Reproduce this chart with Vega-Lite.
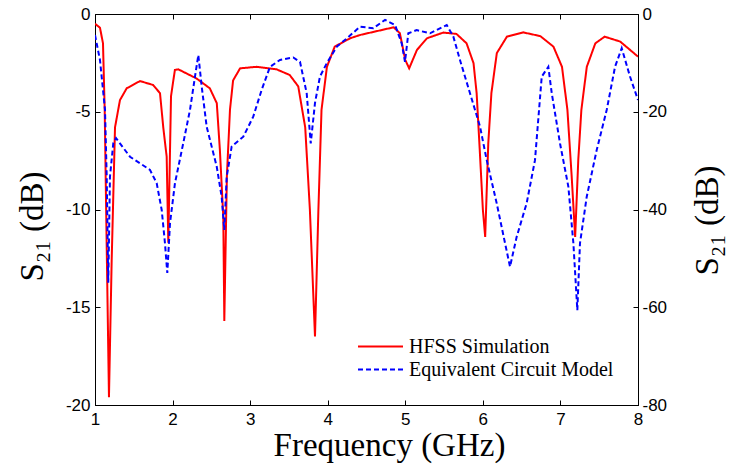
{
  "$schema": "https://vega.github.io/schema/vega-lite/v6.json",
  "width": 543,
  "height": 391,
  "autosize": {"type": "none"},
  "padding": {"left": 95, "top": 14, "right": 99, "bottom": 60},
  "background": "white",
  "config": {
    "view": {"stroke": "#000", "strokeWidth": 1},
    "axis": {
      "grid": false,
      "domainColor": "#000",
      "tickColor": "#000",
      "tickSize": -5,
      "labelFont": "Liberation Sans",
      "labelFontSize": 17,
      "labelColor": "#000",
      "labelOverlap": false,
      "labelFlush": false,
      "labelBound": false,
      "titleFont": "Liberation Serif",
      "titleFontSize": 33,
      "titleFontWeight": "normal",
      "titleColor": "#000"
    },
    "legend": {
      "labelFont": "Liberation Serif",
      "labelFontSize": 20,
      "labelColor": "#000",
      "labelLimit": 0,
      "labelOffset": 5,
      "symbolType": "stroke",
      "symbolSize": 2025,
      "symbolStrokeWidth": 2,
      "rowPadding": 0,
      "clipHeight": 23,
      "padding": 0
    }
  },
  "data": {
    "values": [
      {"f": 1.0, "s": -0.5, "series": "HFSS Simulation"},
      {"f": 1.064, "s": -0.7, "series": "HFSS Simulation"},
      {"f": 1.103, "s": -1.5, "series": "HFSS Simulation"},
      {"f": 1.125, "s": -4.9, "series": "HFSS Simulation"},
      {"f": 1.147, "s": -10.9, "series": "HFSS Simulation"},
      {"f": 1.18, "s": -19.6, "series": "HFSS Simulation"},
      {"f": 1.215, "s": -12.6, "series": "HFSS Simulation"},
      {"f": 1.258, "s": -5.8, "series": "HFSS Simulation"},
      {"f": 1.322, "s": -4.4, "series": "HFSS Simulation"},
      {"f": 1.409, "s": -3.8, "series": "HFSS Simulation"},
      {"f": 1.58, "s": -3.43, "series": "HFSS Simulation"},
      {"f": 1.748, "s": -3.63, "series": "HFSS Simulation"},
      {"f": 1.838, "s": -4.05, "series": "HFSS Simulation"},
      {"f": 1.88, "s": -5.8, "series": "HFSS Simulation"},
      {"f": 1.924, "s": -7.3, "series": "HFSS Simulation"},
      {"f": 1.945, "s": -11.7, "series": "HFSS Simulation"},
      {"f": 1.98, "s": -4.2, "series": "HFSS Simulation"},
      {"f": 2.03, "s": -2.86, "series": "HFSS Simulation"},
      {"f": 2.074, "s": -2.83, "series": "HFSS Simulation"},
      {"f": 2.31, "s": -3.3, "series": "HFSS Simulation"},
      {"f": 2.48, "s": -3.8, "series": "HFSS Simulation"},
      {"f": 2.57, "s": -4.56, "series": "HFSS Simulation"},
      {"f": 2.61, "s": -6.96, "series": "HFSS Simulation"},
      {"f": 2.654, "s": -10.4, "series": "HFSS Simulation"},
      {"f": 2.667, "s": -15.7, "series": "HFSS Simulation"},
      {"f": 2.70, "s": -8.3, "series": "HFSS Simulation"},
      {"f": 2.74, "s": -4.9, "series": "HFSS Simulation"},
      {"f": 2.78, "s": -3.4, "series": "HFSS Simulation"},
      {"f": 2.87, "s": -2.78, "series": "HFSS Simulation"},
      {"f": 3.085, "s": -2.7, "series": "HFSS Simulation"},
      {"f": 3.34, "s": -2.83, "series": "HFSS Simulation"},
      {"f": 3.51, "s": -3.12, "series": "HFSS Simulation"},
      {"f": 3.62, "s": -3.7, "series": "HFSS Simulation"},
      {"f": 3.71, "s": -5.8, "series": "HFSS Simulation"},
      {"f": 3.77, "s": -10, "series": "HFSS Simulation"},
      {"f": 3.836, "s": -16.5, "series": "HFSS Simulation"},
      {"f": 3.88, "s": -10, "series": "HFSS Simulation"},
      {"f": 3.92, "s": -4.9, "series": "HFSS Simulation"},
      {"f": 3.99, "s": -2.7, "series": "HFSS Simulation"},
      {"f": 4.09, "s": -1.67, "series": "HFSS Simulation"},
      {"f": 4.29, "s": -1.24, "series": "HFSS Simulation"},
      {"f": 4.42, "s": -1.07, "series": "HFSS Simulation"},
      {"f": 4.85, "s": -0.68, "series": "HFSS Simulation"},
      {"f": 4.93, "s": -0.98, "series": "HFSS Simulation"},
      {"f": 5.0, "s": -2.35, "series": "HFSS Simulation"},
      {"f": 5.05, "s": -2.78, "series": "HFSS Simulation"},
      {"f": 5.15, "s": -1.84, "series": "HFSS Simulation"},
      {"f": 5.28, "s": -1.24, "series": "HFSS Simulation"},
      {"f": 5.49, "s": -0.95, "series": "HFSS Simulation"},
      {"f": 5.66, "s": -1.02, "series": "HFSS Simulation"},
      {"f": 5.79, "s": -1.5, "series": "HFSS Simulation"},
      {"f": 5.88, "s": -2.52, "series": "HFSS Simulation"},
      {"f": 5.92, "s": -4.06, "series": "HFSS Simulation"},
      {"f": 5.96, "s": -6.96, "series": "HFSS Simulation"},
      {"f": 6.0, "s": -10, "series": "HFSS Simulation"},
      {"f": 6.03, "s": -11.4, "series": "HFSS Simulation"},
      {"f": 6.07, "s": -6.6, "series": "HFSS Simulation"},
      {"f": 6.11, "s": -4.05, "series": "HFSS Simulation"},
      {"f": 6.18, "s": -2.0, "series": "HFSS Simulation"},
      {"f": 6.31, "s": -1.16, "series": "HFSS Simulation"},
      {"f": 6.52, "s": -0.94, "series": "HFSS Simulation"},
      {"f": 6.74, "s": -1.13, "series": "HFSS Simulation"},
      {"f": 6.91, "s": -1.67, "series": "HFSS Simulation"},
      {"f": 7.02, "s": -2.7, "series": "HFSS Simulation"},
      {"f": 7.09, "s": -4.9, "series": "HFSS Simulation"},
      {"f": 7.145, "s": -8.3, "series": "HFSS Simulation"},
      {"f": 7.19, "s": -11.4, "series": "HFSS Simulation"},
      {"f": 7.23, "s": -7.47, "series": "HFSS Simulation"},
      {"f": 7.27, "s": -4.9, "series": "HFSS Simulation"},
      {"f": 7.34, "s": -2.7, "series": "HFSS Simulation"},
      {"f": 7.45, "s": -1.5, "series": "HFSS Simulation"},
      {"f": 7.57, "s": -1.16, "series": "HFSS Simulation"},
      {"f": 7.77, "s": -1.41, "series": "HFSS Simulation"},
      {"f": 8.0, "s": -2.18, "series": "HFSS Simulation"},
      {"f": 1.0, "s": -4.3, "series": "Equivalent Circuit Model"},
      {"f": 1.064, "s": -9.4, "series": "Equivalent Circuit Model"},
      {"f": 1.129, "s": -19.6, "series": "Equivalent Circuit Model"},
      {"f": 1.151, "s": -33.3, "series": "Equivalent Circuit Model"},
      {"f": 1.171, "s": -55, "series": "Equivalent Circuit Model"},
      {"f": 1.193, "s": -33.3, "series": "Equivalent Circuit Model"},
      {"f": 1.236, "s": -26.4, "series": "Equivalent Circuit Model"},
      {"f": 1.271, "s": -25.4, "series": "Equivalent Circuit Model"},
      {"f": 1.451, "s": -29.2, "series": "Equivalent Circuit Model"},
      {"f": 1.709, "s": -31.9, "series": "Equivalent Circuit Model"},
      {"f": 1.795, "s": -34.6, "series": "Equivalent Circuit Model"},
      {"f": 1.86, "s": -40.1, "series": "Equivalent Circuit Model"},
      {"f": 1.902, "s": -46.9, "series": "Equivalent Circuit Model"},
      {"f": 1.932, "s": -53, "series": "Equivalent Circuit Model"},
      {"f": 1.967, "s": -42.8, "series": "Equivalent Circuit Model"},
      {"f": 2.031, "s": -34.6, "series": "Equivalent Circuit Model"},
      {"f": 2.138, "s": -26.4, "series": "Equivalent Circuit Model"},
      {"f": 2.225, "s": -19.6, "series": "Equivalent Circuit Model"},
      {"f": 2.289, "s": -12.8, "series": "Equivalent Circuit Model"},
      {"f": 2.332, "s": -8.4, "series": "Equivalent Circuit Model"},
      {"f": 2.376, "s": -14.9, "series": "Equivalent Circuit Model"},
      {"f": 2.44, "s": -23.1, "series": "Equivalent Circuit Model"},
      {"f": 2.569, "s": -31.2, "series": "Equivalent Circuit Model"},
      {"f": 2.633, "s": -37.4, "series": "Equivalent Circuit Model"},
      {"f": 2.667, "s": -44.2, "series": "Equivalent Circuit Model"},
      {"f": 2.698, "s": -33.3, "series": "Equivalent Circuit Model"},
      {"f": 2.762, "s": -27.1, "series": "Equivalent Circuit Model"},
      {"f": 2.912, "s": -25.1, "series": "Equivalent Circuit Model"},
      {"f": 3.04, "s": -21, "series": "Equivalent Circuit Model"},
      {"f": 3.149, "s": -15.5, "series": "Equivalent Circuit Model"},
      {"f": 3.256, "s": -10.8, "series": "Equivalent Circuit Model"},
      {"f": 3.385, "s": -9.4, "series": "Equivalent Circuit Model"},
      {"f": 3.556, "s": -8.9, "series": "Equivalent Circuit Model"},
      {"f": 3.643, "s": -9.8, "series": "Equivalent Circuit Model"},
      {"f": 3.729, "s": -16.2, "series": "Equivalent Circuit Model"},
      {"f": 3.781, "s": -26.5, "series": "Equivalent Circuit Model"},
      {"f": 3.836, "s": -18.2, "series": "Equivalent Circuit Model"},
      {"f": 3.9, "s": -12.8, "series": "Equivalent Circuit Model"},
      {"f": 3.987, "s": -10.1, "series": "Equivalent Circuit Model"},
      {"f": 4.116, "s": -6.7, "series": "Equivalent Circuit Model"},
      {"f": 4.245, "s": -5.0, "series": "Equivalent Circuit Model"},
      {"f": 4.416, "s": -2.6, "series": "Equivalent Circuit Model"},
      {"f": 4.588, "s": -2.9, "series": "Equivalent Circuit Model"},
      {"f": 4.739, "s": -1.2, "series": "Equivalent Circuit Model"},
      {"f": 4.868, "s": -2.25, "series": "Equivalent Circuit Model"},
      {"f": 4.954, "s": -6.0, "series": "Equivalent Circuit Model"},
      {"f": 4.996, "s": -9.8, "series": "Equivalent Circuit Model"},
      {"f": 5.039, "s": -3.95, "series": "Equivalent Circuit Model"},
      {"f": 5.147, "s": -3.3, "series": "Equivalent Circuit Model"},
      {"f": 5.319, "s": -3.95, "series": "Equivalent Circuit Model"},
      {"f": 5.534, "s": -2.25, "series": "Equivalent Circuit Model"},
      {"f": 5.619, "s": -4.6, "series": "Equivalent Circuit Model"},
      {"f": 5.705, "s": -9.4, "series": "Equivalent Circuit Model"},
      {"f": 5.834, "s": -16.2, "series": "Equivalent Circuit Model"},
      {"f": 5.963, "s": -23, "series": "Equivalent Circuit Model"},
      {"f": 6.05, "s": -29.9, "series": "Equivalent Circuit Model"},
      {"f": 6.178, "s": -38.7, "series": "Equivalent Circuit Model"},
      {"f": 6.286, "s": -46.9, "series": "Equivalent Circuit Model"},
      {"f": 6.35, "s": -51.7, "series": "Equivalent Circuit Model"},
      {"f": 6.436, "s": -45.6, "series": "Equivalent Circuit Model"},
      {"f": 6.565, "s": -38.7, "series": "Equivalent Circuit Model"},
      {"f": 6.672, "s": -29.9, "series": "Equivalent Circuit Model"},
      {"f": 6.759, "s": -12.8, "series": "Equivalent Circuit Model"},
      {"f": 6.844, "s": -10.8, "series": "Equivalent Circuit Model"},
      {"f": 6.888, "s": -16.2, "series": "Equivalent Circuit Model"},
      {"f": 6.995, "s": -26.5, "series": "Equivalent Circuit Model"},
      {"f": 7.102, "s": -35.3, "series": "Equivalent Circuit Model"},
      {"f": 7.167, "s": -46.9, "series": "Equivalent Circuit Model"},
      {"f": 7.218, "s": -60.6, "series": "Equivalent Circuit Model"},
      {"f": 7.252, "s": -46.9, "series": "Equivalent Circuit Model"},
      {"f": 7.339, "s": -37.4, "series": "Equivalent Circuit Model"},
      {"f": 7.468, "s": -27.8, "series": "Equivalent Circuit Model"},
      {"f": 7.597, "s": -19.6, "series": "Equivalent Circuit Model"},
      {"f": 7.704, "s": -10.8, "series": "Equivalent Circuit Model"},
      {"f": 7.79, "s": -7.0, "series": "Equivalent Circuit Model"},
      {"f": 7.897, "s": -12.8, "series": "Equivalent Circuit Model"},
      {"f": 8.0, "s": -17.6, "series": "Equivalent Circuit Model"}
    ]
  },
  "layer": [
    {
      "transform": [{"filter": "datum.series === 'HFSS Simulation'"}],
      "mark": {"type": "line", "strokeWidth": 2, "clip": true},
      "encoding": {
        "x": {
          "field": "f", "type": "quantitative",
          "scale": {"domain": [1, 8], "nice": false, "zero": false},
          "axis": {"orient": "bottom", "values": [1, 2, 3, 4, 5, 6, 7, 8], "labelPadding": 11,
                   "title": "Frequency (GHz)", "titleX": 294, "titleY": 50, "titleAlign": "center", "titleBaseline": "alphabetic"}
        },
        "y": {
          "field": "s", "type": "quantitative",
          "scale": {"domain": [-20, 0], "nice": false, "zero": false},
          "axis": {"orient": "left", "values": [0, -5, -10, -15, -20], "labelExpr": "toString(datum.value)", "labelPadding": 10,
                   "title": "S₂₁ (dB)", "titleX": -63, "titleY": 212, "titleAngle": -90, "titleAlign": "center", "titleBaseline": "middle"}
        },
        "color": {
          "field": "series", "type": "nominal",
          "scale": {"domain": ["HFSS Simulation", "Equivalent Circuit Model"], "range": ["#ff0000", "#0000ff"]},
          "legend": {"title": null, "orient": "none", "legendX": 262, "legendY": 321, "labelFont": "Liberation Serif", "labelFontSize": 20, "clipHeight": 23}
        },
        "strokeDash": {
          "field": "series", "type": "nominal",
          "scale": {"domain": ["HFSS Simulation", "Equivalent Circuit Model"], "range": [[1, 0], [5, 3]]},
          "legend": {"title": null, "orient": "none", "legendX": 262, "legendY": 321, "labelFont": "Liberation Serif", "labelFontSize": 20, "clipHeight": 23}
        }
      }
    },
    {
      "transform": [{"filter": "datum.series === 'Equivalent Circuit Model'"}],
      "mark": {"type": "line", "strokeWidth": 2, "clip": true},
      "encoding": {
        "x": {
          "field": "f", "type": "quantitative",
          "scale": {"domain": [1, 8], "nice": false, "zero": false},
          "axis": {"orient": "top", "values": [2, 3, 4, 5, 6, 7], "labels": false, "title": null}
        },
        "y": {
          "field": "s", "type": "quantitative",
          "scale": {"domain": [-80, 0], "nice": false, "zero": false},
          "axis": {"orient": "right", "values": [0, -20, -40, -60, -80], "labelExpr": "toString(datum.value)", "labelPadding": 9,
                   "title": "S₂₁ (dB)", "titleX": 69, "titleY": 206, "titleAngle": -90, "titleAlign": "center", "titleBaseline": "middle"}
        },
        "color": {"field": "series", "type": "nominal"},
        "strokeDash": {"field": "series", "type": "nominal"}
      }
    }
  ],
  "resolve": {"scale": {"y": "independent"}, "axis": {"x": "independent", "y": "independent"}}
}
